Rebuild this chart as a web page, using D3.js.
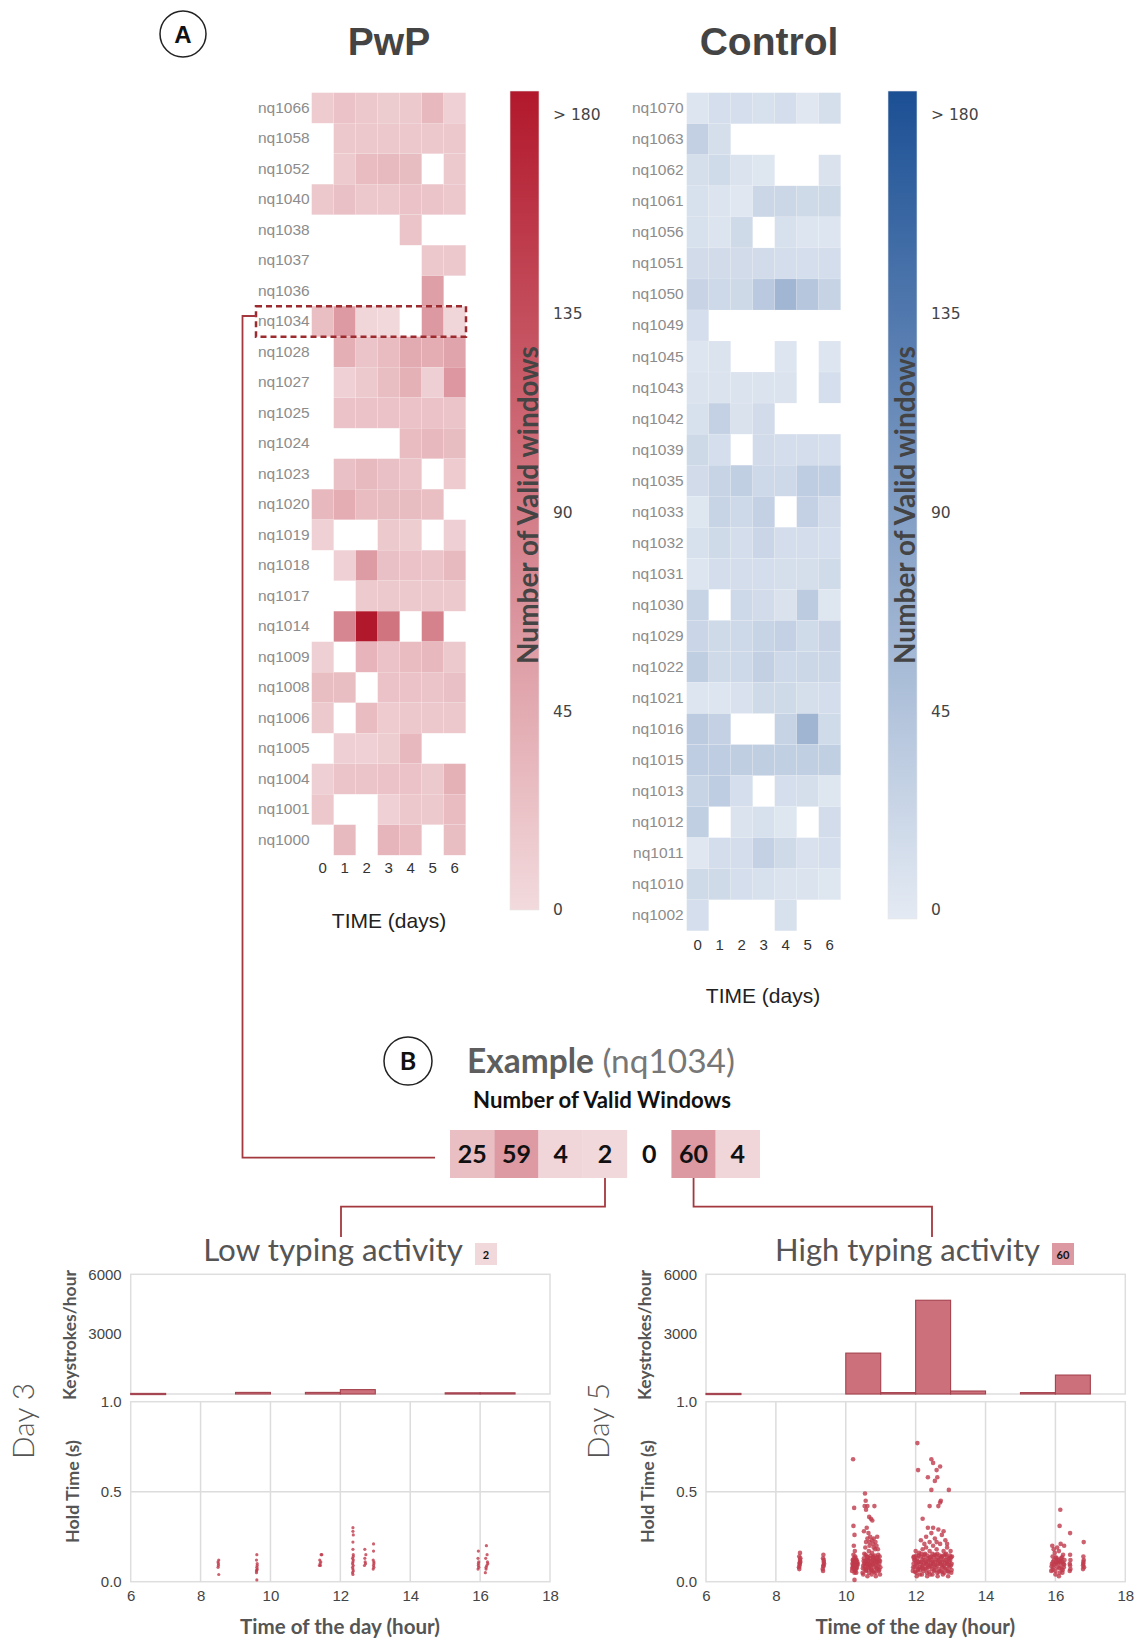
<!DOCTYPE html>
<html><head><meta charset="utf-8">
<script src="https://cdn.jsdelivr.net/npm/d3@7"></script>
<style>body{margin:0;background:#fff}svg{display:block}</style>
</head><body><svg id="c" width="1137" height="1641"></svg>
<script>
// ---------------- DATA ----------------
const days = [0,1,2,3,4,5,6];
const pwpIds = ["nq1066","nq1058","nq1052","nq1040","nq1038","nq1037","nq1036","nq1034","nq1028","nq1027","nq1025","nq1024","nq1023","nq1020","nq1019","nq1018","nq1017","nq1014","nq1009","nq1008","nq1006","nq1005","nq1004","nq1001","nq1000"];
const pwpValues = [
 [14,22,18,13,16,32,9],
 [null,18,18,18,17,18,18],
 [null,15,28,30,27,null,16],
 [18,24,17,17,22,20,17],
 [null,null,null,null,20,null,null],
 [null,null,null,null,null,18,18],
 [null,null,null,null,null,55,null],
 [25,59,4,2,null,60,4],
 [null,40,20,28,45,42,50],
 [null,8,16,26,38,10,62],
 [null,22,22,22,22,22,20],
 [null,null,null,null,28,32,27],
 [null,24,30,24,20,null,14],
 [32,42,28,27,27,25,null],
 [8,null,null,16,12,null,10],
 [null,8,58,24,22,20,30],
 [null,null,15,16,16,16,16],
 [null,78,185,95,null,82,null],
 [10,null,35,22,28,32,16],
 [26,26,null,22,22,20,24],
 [16,null,28,14,18,18,18],
 [null,10,8,12,32,null,null],
 [10,20,20,22,22,16,38],
 [18,null,null,8,18,16,28],
 [null,30,null,34,28,null,26]
];
const ctrlIds = ["nq1070","nq1063","nq1062","nq1061","nq1056","nq1051","nq1050","nq1049","nq1045","nq1043","nq1042","nq1039","nq1035","nq1033","nq1032","nq1031","nq1030","nq1029","nq1022","nq1021","nq1016","nq1015","nq1013","nq1012","nq1011","nq1010","nq1002"];
const ctrlValues = [
 [6,14,14,12,15,4,13],
 [30,13,null,null,null,null,null],
 [13,18,8,5,null,null,9],
 [12,7,4,22,22,19,20],
 [12,7,19,null,12,6,6],
 [17,17,17,17,15,14,15],
 [25,21,20,38,60,42,27],
 [14,null,null,null,null,null,null],
 [6,8,null,null,6,null,6],
 [8,8,8,8,8,null,14],
 [12,29,9,17,null,null,null],
 [20,14,null,17,15,15,14],
 [17,26,31,21,21,34,33],
 [5,26,21,29,null,29,17],
 [12,19,15,23,15,15,14],
 [6,15,15,15,13,13,18],
 [26,null,21,17,9,36,5],
 [23,19,21,26,29,18,25],
 [32,19,21,30,21,22,22],
 [6,6,10,19,19,13,15],
 [36,29,null,null,27,62,18],
 [34,34,32,32,31,31,31],
 [26,34,14,null,14,13,5],
 [31,null,8,12,5,null,16],
 [4,15,15,29,19,10,14],
 [19,19,14,12,8,8,5],
 [14,null,null,null,12,null,null]
];
const colorbarTicks = [0,45,90,135,180];
const colorbarTickLabels = ["0","45","90","135","> 180"];
const exampleId = "nq1034";
const exampleValues = [25,59,4,2,0,60,4];
const hourBins = [6,7,8,9,10,11,12,13,14,15,16,17];
const lowKeystrokes  = [30,0,0,80,0,80,220,0,0,60,60,0];
const highKeystrokes = [30,0,0,0,2050,70,4700,150,0,70,950,0];
const hourTicks = [6,8,10,12,14,16,18];
const gridHours = [8,10,12,14,16];
const holdTicks = [0,0.5,1.0];
const keyTicks = [3000,6000];
const lowHold = [
 [8.5,.08],[8.51,.1],[8.52,.12],[8.5,.11],[8.51,.09],[8.52,.04],
 [9.6,.06],[9.61,.08],[9.62,.1],[9.6,.12],[9.61,.15],[9.62,.07],[9.6,.05],[9.61,.01],[9.62,.09],[9.61,.065],
 [11.4,.09],[11.42,.1],[11.44,.11],[11.41,.12],[11.45,.15],[11.47,.15],[11.43,.09],
 [12.35,.05],[12.36,.07],[12.37,.09],[12.36,.11],[12.35,.13],[12.37,.15],[12.36,.18],[12.37,.06],[12.35,.1],[12.36,.22],[12.37,.26],[12.36,.28],[12.36,.3],[12.37,.12],[12.35,.08],[12.36,.04],[12.37,.14],
 [12.69,.09],[12.71,.11],[12.7,.13],[12.72,.1],[12.7,.18],[12.73,.15],
 [12.94,.07],[12.95,.09],[12.96,.11],[12.94,.12],[12.96,.08],[12.95,.17],[12.95,.21],[12.96,.1],
 [15.94,.07],[15.95,.09],[15.96,.11],[15.94,.13],[15.95,.17],[15.96,.08],[15.95,.1],
 [16.15,.05],[16.17,.07],[16.19,.09],[16.21,.11],[16.16,.13],[16.2,.15],[16.18,.2],[16.22,.1],[16.17,.08]
];
const highHold = [
 [8.66,.08],[8.68,.1],[8.69,.12],[8.67,.14],[8.7,.11],[8.68,.09],[8.69,.16],[8.67,.07],[8.7,.13],[8.68,.105],
 [9.34,.07],[9.36,.09],[9.37,.11],[9.35,.13],[9.38,.1],[9.36,.15],[9.35,.06],[9.37,.12],[9.36,.085],
 [10.18,.06],[10.2,.08],[10.22,.1],[10.24,.07],[10.26,.09],[10.28,.11],[10.3,.08],[10.32,.1],[10.2,.12],[10.23,.13],[10.27,.06],[10.31,.12],[10.25,.05],[10.21,.09],[10.29,.07],[10.33,.09],[10.19,.1],[10.24,.11],[10.28,.13],[10.22,.15],[10.26,.17],[10.23,.2],[10.25,.26],[10.22,.31],[10.24,.41],[10.21,.68],[10.25,.01],[10.27,.14],[10.3,.05],[10.34,.1],
 [10.19,.075],[10.21,.115],[10.23,.085],[10.25,.105],[10.27,.095],[10.29,.115],[10.31,.075],[10.33,.11],
 [10.48,.05],[10.5,.09],[10.52,.13],[10.54,.07],[10.55,.11],[10.57,.15],[10.58,.06],[10.6,.1],[10.61,.14],[10.63,.08],[10.64,.12],[10.66,.17],[10.67,.05],[10.69,.09],[10.7,.13],[10.72,.07],[10.73,.11],[10.75,.16],[10.76,.06],[10.78,.1],[10.79,.14],[10.81,.08],[10.82,.12],[10.84,.18],[10.85,.05],[10.87,.09],[10.88,.13],[10.9,.07],[10.91,.11],[10.93,.15],[10.94,.06],[10.96,.1],[10.97,.14],[10.99,.08],[10.5,.04],[10.56,.19],[10.62,.03],[10.68,.2],[10.74,.04],[10.8,.19],[10.86,.03],[10.92,.18],[10.98,.04],[10.53,.1],[10.59,.12],[10.65,.1],[10.71,.09],[10.77,.12],[10.83,.1],[10.89,.11],[10.95,.12],
 [10.49,.075],[10.51,.115],[10.53,.155],[10.56,.085],[10.59,.065],[10.61,.095],[10.63,.135],[10.66,.075],[10.68,.115],[10.71,.145],[10.73,.065],[10.76,.095],[10.78,.135],[10.81,.055],[10.83,.145],[10.86,.115],[10.88,.075],[10.91,.135],[10.93,.085],[10.96,.065],[10.98,.115],
 [10.55,.49],[10.57,.45],[10.54,.42],[10.58,.4],[10.62,.42],[10.67,.36],[10.72,.35],[10.76,.34],[10.82,.42],[10.6,.3],[10.65,.27],[10.7,.25],[10.75,.23],[10.8,.24],[10.85,.22],[10.9,.25],[10.68,.22],[10.78,.21],[10.88,.2],[10.62,.24],[10.52,.28],[10.58,.22],
 [11.92,.06],[11.94,.1],[11.95,.14],[11.97,.08],[11.99,.12],[12.0,.17],[12.02,.05],[12.04,.09],[12.05,.13],[12.07,.07],[12.09,.11],[12.1,.16],[12.12,.04],[12.14,.1],[12.15,.14],[12.17,.08],[12.19,.12],[12.2,.18],[12.22,.06],[12.24,.1],[12.25,.15],[12.27,.07],[12.29,.11],[12.3,.19],[12.32,.05],[12.34,.09],[12.35,.13],[12.37,.08],[12.39,.12],[12.4,.17],[12.42,.04],[12.44,.1],[12.45,.14],[12.47,.07],[12.49,.11],[12.5,.2],[12.52,.06],[12.54,.09],[12.55,.15],[12.57,.08],[12.59,.12],[12.6,.18],[12.62,.05],[12.64,.1],[12.65,.13],[12.67,.07],[12.69,.11],[12.7,.21],[12.72,.06],[12.74,.09],[12.75,.14],[12.77,.08],[12.79,.12],[12.8,.17],[12.82,.05],[12.84,.1],[12.85,.15],[12.87,.07],[12.89,.11],[12.9,.19],[12.92,.06],[12.94,.09],[12.95,.13],[12.97,.08],[12.99,.12],[13.0,.17],[13.02,.05],[13.03,.1],[13.04,.14],
 [11.93,.08],[11.96,.12],[12.01,.1],[12.06,.11],[12.11,.08],[12.16,.11],[12.21,.09],[12.26,.12],[12.31,.1],[12.36,.11],[12.41,.09],[12.46,.12],[12.51,.1],[12.56,.11],[12.61,.09],[12.66,.12],[12.71,.1],[12.76,.11],[12.81,.09],[12.86,.12],[12.91,.1],[12.96,.11],[13.01,.09],[12.03,.03],[12.18,.04],[12.33,.03],[12.48,.04],[12.63,.03],[12.78,.04],[12.93,.03],
 [11.94,.135],[11.98,.055],[12.02,.145],[12.06,.065],[12.09,.145],[12.13,.065],[12.16,.155],[12.2,.075],[12.23,.135],[12.27,.155],[12.31,.075],[12.34,.145],[12.38,.055],[12.41,.135],[12.45,.085],[12.48,.155],[12.52,.135],[12.55,.065],[12.58,.145],[12.62,.155],[12.66,.055],[12.69,.145],[12.73,.135],[12.76,.055],[12.8,.145],[12.83,.075],[12.87,.155],[12.9,.135],[12.94,.055],[12.98,.145],[13.01,.135],[13.03,.065],
 [12.05,.77],[12.07,.62],[12.45,.68],[12.6,.62],[12.35,.58],[12.55,.56],[12.7,.64],[12.45,.51],[12.95,.51],[12.7,.44],[12.65,.42],[12.4,.42],[12.2,.35],[12.5,.3],[12.45,.27],[12.65,.29],[12.3,.25],[12.55,.24],[12.75,.26],[12.85,.23],[12.15,.23],[12.4,.22],[12.6,.22],[12.9,.21],[12.25,.21],[12.8,.28],[12.35,.3],[12.72,.45],[12.62,.58],[12.5,.66],
 [15.88,.06],[15.9,.1],[15.92,.14],[15.94,.08],[15.96,.12],[15.98,.16],[16.0,.06],[16.02,.1],[16.04,.13],[16.06,.08],[16.08,.12],[16.1,.17],[16.12,.05],[16.14,.09],[16.16,.13],[16.18,.07],[16.2,.11],[16.22,.15],[16.24,.08],[16.26,.12],[15.91,.2],[15.95,.18],[16.05,.19],[16.15,.21],[16.12,.31],[16.14,.4],[16.25,.2],[16.0,.04],[16.1,.03],[16.2,.05],[15.93,.11],[16.03,.11],[16.13,.11],[16.23,.1],
 [15.89,.085],[15.92,.065],[15.97,.095],[16.01,.135],[16.07,.105],[16.11,.075],[16.15,.115],[16.19,.135],[16.21,.065],[16.25,.095],
 [16.41,.06],[16.42,.09],[16.43,.12],[16.42,.15],[16.41,.1],[16.43,.07],[16.42,.27],
 [16.79,.07],[16.8,.1],[16.81,.12],[16.8,.14],[16.79,.09],[16.81,.22],[16.8,.11],[16.82,.08]
];

// ---------------- DRAW ----------------
const svg = d3.select('#c');
const SANS = 'Liberation Sans, Arial, sans-serif';
const CAL = 'Lato, Open Sans, sans-serif';
const pink = d3.scaleLinear().domain([0,180]).range(['#f2dadd','#b2182b']).clamp(true);
const blue = d3.scaleLinear().domain([0,180]).range(['#e4eaf3','#1b4f94']).clamp(true);
const LINE = '#a3393e';

function fitW(t, w){ const l = t.node().getComputedTextLength(); if(l>0) t.attr('font-size', (+t.attr('font-size'))*w/l); return t; }

svg.append('circle').attr('cx',183).attr('cy',34).attr('r',23).attr('fill','none').attr('stroke','#222').attr('stroke-width',1.5);
svg.append('text').attr('x',183).attr('y',42.5).attr('text-anchor','middle').attr('font-family',SANS).attr('font-weight','bold').attr('font-size',24).attr('fill','#111').text('A');
svg.append('text').attr('x',389).attr('y',55).attr('text-anchor','middle').attr('font-family',SANS).attr('font-weight','bold').attr('font-size',39).attr('fill','#444').text('PwP');
svg.append('text').attr('x',769).attr('y',55).attr('text-anchor','middle').attr('font-family',SANS).attr('font-weight','bold').attr('font-size',39).attr('fill','#444').text('Control');

function heatmap(ids, vals, x0, y0, rowH, color, labelPad, tickPad, timeX, timeBase){
  const x = d3.scaleBand().domain(days).range([x0, x0+154]);
  const y = d3.scaleBand().domain(ids).range([y0, y0+rowH*ids.length]);
  const g = svg.append('g');
  ids.forEach((id,i)=>{
    vals[i].forEach((v,j)=>{
      if(v==null || v===0) return;
      g.append('rect').attr('x',x(days[j])).attr('y',y(id)).attr('width',x.bandwidth()).attr('height',y.bandwidth())
        .attr('fill',color(v)).attr('stroke','#fff').attr('stroke-width',0.5).attr('stroke-opacity',0.22);
    });
  });
  const ya = g.append('g').attr('transform',`translate(${x0},0)`).call(d3.axisLeft(y).tickSize(0).tickPadding(labelPad));
  ya.select('.domain').remove();
  ya.selectAll('text').attr('font-family',SANS).attr('font-size',15.5).attr('fill','#8c8c8c');
  const xa = g.append('g').attr('transform',`translate(0,${y0+rowH*ids.length})`).call(d3.axisBottom(x).tickSize(0).tickPadding(tickPad));
  xa.select('.domain').remove();
  xa.selectAll('text').attr('font-family',SANS).attr('font-size',15).attr('fill','#333');
  g.append('text').attr('x',timeX).attr('y',timeBase).attr('text-anchor','middle').attr('font-family',SANS).attr('font-size',21).attr('fill','#222').text('TIME (days)');
  return {x,y};
}
const pw = heatmap(pwpIds, pwpValues, 311.7, 92.7, 30.5, pink, 2, 7.3, 389, 928);
const ct = heatmap(ctrlIds, ctrlValues, 686.7, 92.7, 31.04, blue, 3, 8.6, 763, 1003);

function colorbar(id, color, bx, top, bottom, labelX, titleX){
  const grad = svg.append('defs').append('linearGradient').attr('id',id).attr('x1',0).attr('y1',1).attr('x2',0).attr('y2',0);
  d3.range(0,1.0001,0.1).forEach(t=>grad.append('stop').attr('offset',t).attr('stop-color',color(t*180)));
  svg.append('rect').attr('x',bx).attr('y',top).attr('width',29).attr('height',bottom-top).attr('fill',`url(#${id})`).attr('stroke','#e6e6e6').attr('stroke-width',0.6);
  const cy = d3.scaleLinear().domain([0,180]).range([910,115]);
  const ax = svg.append('g').attr('transform',`translate(${labelX-6},0)`).call(d3.axisRight(cy).tickValues(colorbarTicks).tickSize(0).tickPadding(6).tickFormat((d,i)=>colorbarTickLabels[i]));
  ax.select('.domain').remove();
  ax.selectAll('text').attr('font-family','DejaVu Sans, sans-serif').attr('font-size',15.5).attr('fill','#444');
  const t = svg.append('text').attr('transform',`translate(${titleX},505) rotate(-90)`).attr('text-anchor','middle').attr('dominant-baseline','central')
    .attr('font-family',CAL).attr('font-weight','bold').attr('font-size',24).attr('fill','#444').text('Number of Valid windows');
  fitW(t, 318);
}
colorbar('gp', pink, 510, 91, 910, 553, 527);
colorbar('gb', blue, 888, 91, 919, 931, 904);

const rowY = pw.y(exampleId);
svg.append('rect').attr('x',256).attr('y',rowY).attr('width',466-256).attr('height',pw.y.bandwidth())
  .attr('fill','none').attr('stroke','#9b2b2e').attr('stroke-width',2.5).attr('stroke-dasharray','6,4');

const bx = d3.scaleBand().domain(d3.range(exampleValues.length)).range([450,760]);
const bTop = 1130, bH = 48;
svg.append('path').attr('d',`M256,316 H242.5 V1157.7 H435`).attr('fill','none').attr('stroke',LINE).attr('stroke-width',1.8);
svg.append('circle').attr('cx',408).attr('cy',1061).attr('r',24).attr('fill','none').attr('stroke','#222').attr('stroke-width',1.5);
svg.append('text').attr('x',408).attr('y',1070).attr('text-anchor','middle').attr('font-family',CAL).attr('font-weight','bold').attr('font-size',25).attr('fill','#111').text('B');
const ex = svg.append('text').attr('x',467).attr('y',1073).attr('font-family',CAL).attr('font-size',34);
ex.append('tspan').attr('font-weight','bold').attr('fill','#5e5e5e').text('Example');
ex.append('tspan').attr('fill','#777').text(' (nq1034)');
fitW(ex, 268);
const nv = svg.append('text').attr('x',602).attr('y',1108).attr('text-anchor','middle').attr('font-family',CAL).attr('font-weight','bold').attr('font-size',20).attr('fill','#111').text('Number of Valid Windows');
fitW(nv, 258);
exampleValues.forEach((v,i)=>{
  if(v>0) svg.append('rect').attr('x',bx(i)).attr('y',bTop).attr('width',bx.bandwidth()).attr('height',bH).attr('fill',pink(v));
  svg.append('text').attr('x',bx(i)+bx.bandwidth()/2).attr('y',bTop+33).attr('text-anchor','middle').attr('font-family',CAL).attr('font-weight','bold').attr('font-size',25).attr('fill','#111').text(v);
});
const c2 = bx(3)+bx.bandwidth()/2, c60 = bx(5)+bx.bandwidth()/2;
svg.append('path').attr('d',`M${c2},${bTop+bH} V1206.7 H341 V1237`).attr('fill','none').attr('stroke',LINE).attr('stroke-width',1.8);
svg.append('path').attr('d',`M${c60},${bTop+bH} V1206.7 H932 V1237`).attr('fill','none').attr('stroke',LINE).attr('stroke-width',1.8);

function dayPanel(ox, keys, holds, title, titleW, badgeVal, badgeX, dayText, ptR){
  const x = d3.scaleLinear().domain([6,18]).range([130.7+ox, 550+ox]);
  const yk = d3.scaleLinear().domain([0,6000]).range([1394,1274.3]);
  const yh = d3.scaleLinear().domain([0,1]).range([1581.7,1401.7]);
  const g = svg.append('g');
  const tt = g.append('text').attr('x',badgeX-12).attr('y',1261).attr('text-anchor','end').attr('font-family',CAL).attr('font-size',29).attr('fill','#555').text(title);
  fitW(tt, titleW);
  g.append('rect').attr('x',badgeX).attr('y',1243).attr('width',22).attr('height',22).attr('fill',pink(badgeVal));
  g.append('text').attr('x',badgeX+11).attr('y',1258.5).attr('text-anchor','middle').attr('font-family',CAL).attr('font-weight','bold').attr('font-size',11).attr('fill','#111').text(badgeVal);
  g.append('rect').attr('x',x(6)).attr('y',yk(6000)).attr('width',x(18)-x(6)).attr('height',1394-yk(6000)).attr('fill','none').attr('stroke','#dedede').attr('stroke-width',1.5);
  g.append('rect').attr('x',x(6)).attr('y',yh(1)).attr('width',x(18)-x(6)).attr('height',yh(0)-yh(1)).attr('fill','none').attr('stroke','#dedede').attr('stroke-width',1.5);
  gridHours.forEach(h=>g.append('line').attr('x1',x(h)).attr('x2',x(h)).attr('y1',yh(1)).attr('y2',yh(0)).attr('stroke','#dcdcdc').attr('stroke-width',1.5));
  g.append('line').attr('x1',x(6)).attr('x2',x(18)).attr('y1',yh(0.5)).attr('y2',yh(0.5)).attr('stroke','#dcdcdc').attr('stroke-width',1.5);
  hourBins.forEach((h,i)=>{ const v = keys[i]; if(!v) return;
    g.append('rect').attr('x',x(h)).attr('y',yk(v)).attr('width',x(h+1)-x(h)).attr('height',Math.max(1.2,yk(0)-yk(v)))
      .attr('fill','#cc717c').attr('stroke','#a4424e').attr('stroke-width',1.1); });
  g.selectAll('circle.p').data(holds).enter().append('circle').attr('cx',d=>x(d[0])).attr('cy',d=>yh(d[1])).attr('r',ptR)
    .attr('fill','#bf3a4b').attr('fill-opacity',0.8);
  const style = s => { s.select('.domain').remove(); s.selectAll('text').attr('font-family',SANS).attr('font-size',15).attr('fill','#444'); };
  g.append('g').attr('transform',`translate(${x(6)-9},0)`).call(d3.axisLeft(yk).tickValues(keyTicks).tickSize(0).tickPadding(0).tickFormat(d3.format('d'))).call(style);
  g.append('g').attr('transform',`translate(${x(6)-9},0)`).call(d3.axisLeft(yh).tickValues(holdTicks).tickSize(0).tickPadding(0).tickFormat(d3.format('.1f'))).call(style);
  g.append('g').attr('transform',`translate(0,${yh(0)})`).call(d3.axisBottom(x).tickValues(hourTicks).tickSize(0).tickPadding(9)).call(style);
  const k = g.append('text').attr('transform',`translate(${69+ox},1335) rotate(-90)`).attr('text-anchor','middle').attr('dominant-baseline','central').attr('font-family',CAL).attr('font-weight','bold').attr('font-size',15).attr('fill','#555').text('Keystrokes/hour');
  fitW(k,130);
  const hl = g.append('text').attr('transform',`translate(${71.5+ox},1491.5) rotate(-90)`).attr('text-anchor','middle').attr('dominant-baseline','central').attr('font-family',CAL).attr('font-weight','bold').attr('font-size',15).attr('fill','#555').text('Hold Time (s)');
  fitW(hl,103);
  const xl = g.append('text').attr('x',340+ox).attr('y',1634).attr('text-anchor','middle').attr('font-family',CAL).attr('font-weight','bold').attr('font-size',19).attr('fill','#555').text('Time of the day (hour)');
  fitW(xl,200);
  const dl = g.append('text').attr('transform',`translate(${22.5+ox},1421) rotate(-90)`).attr('text-anchor','middle').attr('dominant-baseline','central').attr('font-family',CAL).attr('font-weight',300).attr('font-size',29).attr('fill','#555').text(dayText);
  fitW(dl,76);
}
dayPanel(0, lowKeystrokes, lowHold, 'Low typing activity', 260, 2, 475, 'Day 3', 1.6);
dayPanel(575.3, highKeystrokes, highHold, 'High typing activity', 265, 60, 1052, 'Day 5', 2.3);
</script></body></html>
